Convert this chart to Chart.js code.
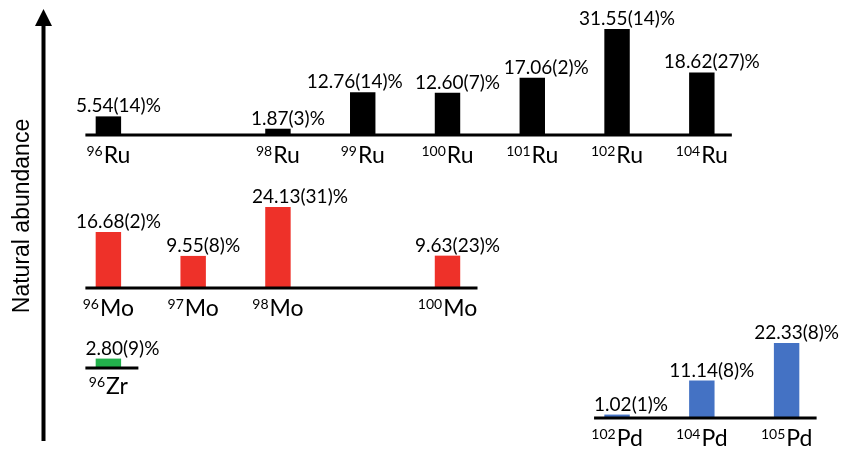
<!DOCTYPE html>
<html>
<head>
<meta charset="utf-8">
<title>Natural abundance of Ru, Mo, Zr and Pd isotopes</title>
<script src="https://cdn.jsdelivr.net/npm/chart.js@4.4.1/dist/chart.umd.min.js"></script>
<style>
    html, body { margin: 0; padding: 0; background: #fff; }
    #wrap { width: 842px; height: 449px; }
</style>
</head>
<body>
<div id="wrap"><canvas id="graph"></canvas></div>
<script>
// mass-number slots shared by all rows
const massNumbers = ['96', '97', '98', '99', '100', '101', '102', '104', '105'];

// natural abundance in %, null where the element has no such isotope
const ruAbundance = [5.54, null, 1.87, 12.76, 12.60, 17.06, 31.55, 18.62, null];
const ruText      = ['5.54(14)%', null, '1.87(3)%', '12.76(14)%', '12.60(7)%', '17.06(2)%', '31.55(14)%', '18.62(27)%', null];

const moAbundance = [16.68, 9.55, 24.13, null, 9.63, null, null, null, null];
const moText      = ['16.68(2)%', '9.55(8)%', '24.13(31)%', null, '9.63(23)%', null, null, null, null];

const zrAbundance = [2.80, null, null, null, null, null, null, null, null];
const zrText      = ['2.80(9)%', null, null, null, null, null, null, null, null];

const pdAbundance = [null, null, null, null, null, null, 1.02, 11.14, 22.33];
const pdText      = [null, null, null, null, null, null, '1.02(1)%', '11.14(8)%', '22.33(8)%'];

const axisTitle = 'Natural abundance';

// layout: every row has its own y scale, same px per percent
const H = 449;
const PX_PER_PCT = 3.36;
const rowScale = (base) => ({
    type: 'linear',
    display: false,
    min: -(H - base) / PX_PER_PCT,
    max: base / PX_PER_PCT
});

const rows = [
    { symbol: 'Ru', data: ruAbundance, text: ruText, color: '#000000', axis: 'yRu', base: 135, gap: 28 },
    { symbol: 'Mo', data: moAbundance, text: moText, color: '#EE3129', axis: 'yMo', base: 288, gap: 28 },
    { symbol: 'Zr', data: zrAbundance, text: zrText, color: '#22B14C', axis: 'yZr', base: 368, gap: 26 },
    { symbol: 'Pd', data: pdAbundance, text: pdText, color: '#4472C4', axis: 'yPd', base: 418, gap: 28 }
];

// value labels sit a bit right of the bar centre, a few are nudged
const LABEL_SHIFT = 10;
const labelNudge = { Ru99: -8, Ru101: 14, Mo98: 22, Zr96: 14, Pd102: 14 };

const isotopePlugin = {
    id: 'isotopes',
    afterDatasetsDraw(chart) {
        const ctx = chart.ctx;
        const xs = chart.scales.x;

        chart.data.datasets.forEach((ds, di) => {
            const row = rows[di];
            const y0 = chart.scales[row.axis].getPixelForValue(0);
            const idx = [];
            ds.data.forEach((v, i) => { if (v !== null) idx.push(i); });
            const meta = chart.getDatasetMeta(di);

            ctx.save();
            // row baseline
            ctx.strokeStyle = '#000';
            ctx.lineWidth = 3;
            ctx.beginPath();
            ctx.moveTo(xs.getPixelForValue(idx[0]) - 23, y0);
            ctx.lineTo(xs.getPixelForValue(idx[idx.length - 1]) + 30, y0);
            ctx.stroke();

            ctx.fillStyle = '#000';
            ctx.textBaseline = 'alphabetic';
            idx.forEach(i => {
                const bar = meta.data[i];
                const key = row.symbol + massNumbers[i];
                const shift = key in labelNudge ? labelNudge[key] : LABEL_SHIFT;
                // value above the bar
                ctx.font = '19px Lato';
                ctx.textAlign = 'center';
                ctx.fillText(row.text[i], bar.x + shift, bar.y - 4);

                // isotope name below the line
                const sup = massNumbers[i];
                ctx.font = '14px Lato';
                const wSup = ctx.measureText(sup).width;
                ctx.font = '23px Lato';
                const wSym = ctx.measureText(row.symbol).width;
                const left = bar.x - (wSup + 1 + wSym) / 2;
                const yb = y0 + row.gap;
                ctx.textAlign = 'left';
                ctx.fillText(row.symbol, left + wSup + 1, yb);
                ctx.font = '14px Lato';
                ctx.fillText(sup, left, yb - 7);
            });
            ctx.restore();
        });

        // y axis arrow and title
        ctx.save();
        ctx.fillStyle = '#000';
        ctx.fillRect(41.5, 24, 4, 417);
        ctx.beginPath();
        ctx.moveTo(43.5, 9);
        ctx.lineTo(52, 26);
        ctx.lineTo(35, 26);
        ctx.closePath();
        ctx.fill();

        ctx.translate(23, 216);
        ctx.rotate(-Math.PI / 2);
        ctx.font = '23px "Liberation Sans"';
        ctx.textAlign = 'center';
        ctx.textBaseline = 'middle';
        ctx.fillText(axisTitle, 0, 0);
        ctx.restore();
    }
};

const scales = {
    x: { type: 'category', display: false, grid: { display: false } }
};
rows.forEach(r => { scales[r.axis] = rowScale(r.base); });

new Chart(document.getElementById('graph'), {
    type: 'bar',
    data: {
        labels: massNumbers,
        datasets: rows.map(r => ({
            label: r.symbol,
            data: r.data,
            yAxisID: r.axis,
            backgroundColor: r.color,
            borderWidth: 0,
            grouped: false,
            barPercentage: 0.3,
            categoryPercentage: 1.0,
            clip: false
        }))
    },
    options: {
        responsive: true,
        maintainAspectRatio: false,
        animation: false,
        events: [],
        layout: { padding: { left: 66, right: 13, top: 0, bottom: 0 } },
        plugins: {
            legend: { display: false },
            tooltip: { enabled: false }
        },
        scales: scales
    },
    plugins: [isotopePlugin]
});
</script>
</body>
</html>
